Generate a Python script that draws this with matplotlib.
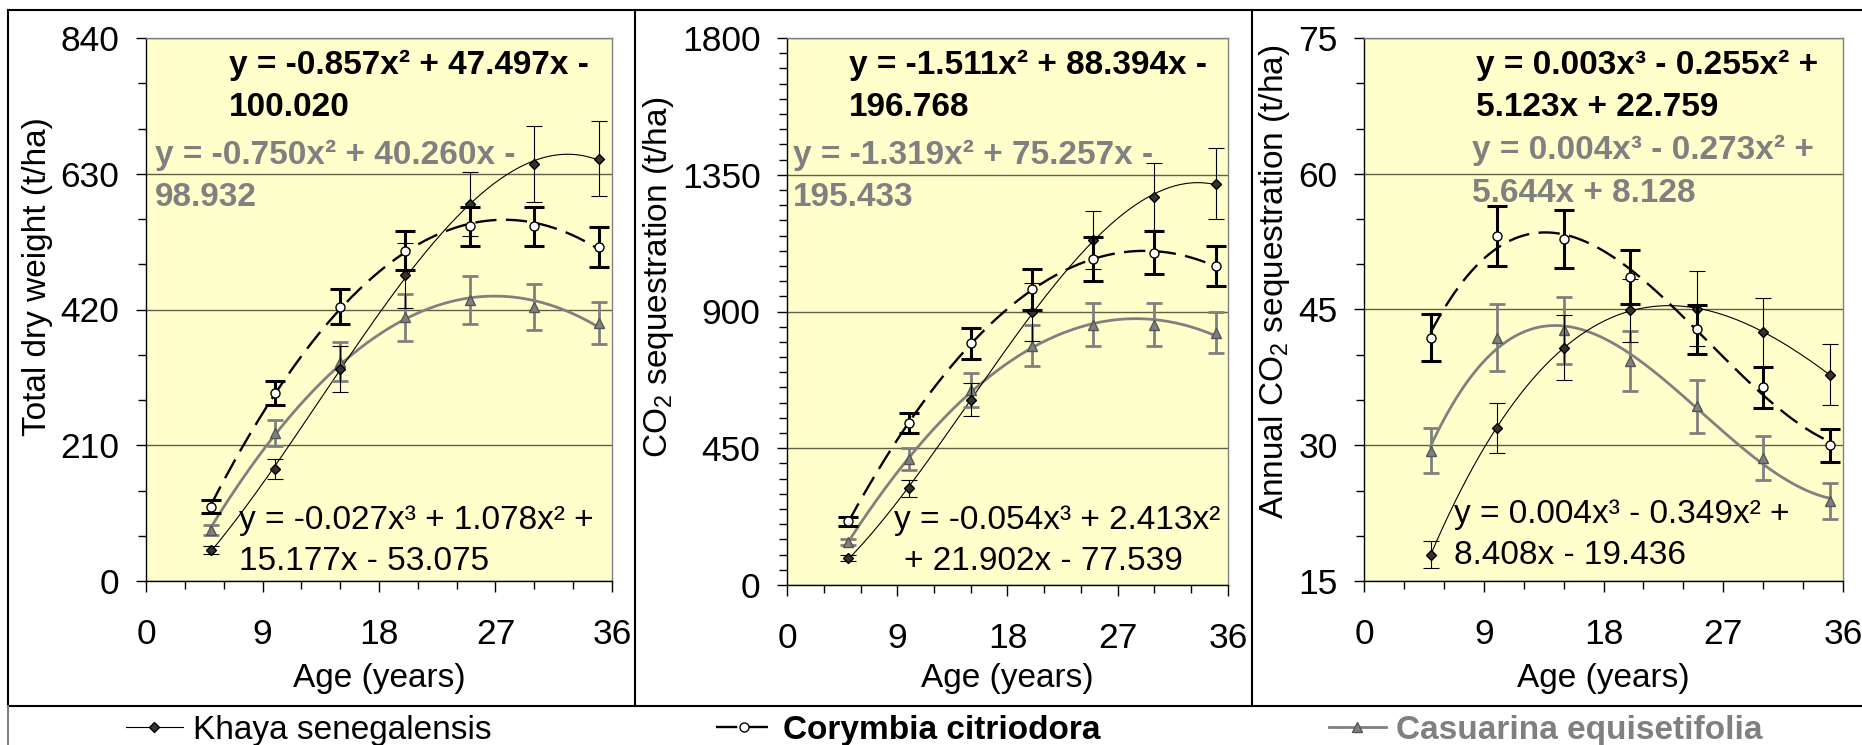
import numpy as np
import matplotlib
matplotlib.use('Agg')
from matplotlib import pyplot as plt
from matplotlib.lines import Line2D
from matplotlib.ticker import MultipleLocator

plt.rcParams['font.family'] = ['Liberation Sans', 'DejaVu Sans']
plt.rcParams['mathtext.fontset'] = 'custom'
plt.rcParams['mathtext.rm'] = 'Liberation Sans'

# ages (years)
ages = [5, 10, 15, 20, 25, 30, 35]

# total dry weight (t/ha)
khaya_dw = [48, 173, 328, 473, 583, 645, 653]
khaya_dw_err = [6, 15, 36, 50, 50, 59, 58]
corymbia_dw = [115, 291, 424, 511, 549, 549, 517]
corymbia_dw_err = [10, 18, 27, 30, 30, 30, 31]
casuarina_dw = [79, 229, 339, 408, 435, 424, 399]
casuarina_dw_err = [8, 20, 30, 36, 37, 36, 33]

# CO2 sequestration (t/ha)
khaya_co2 = [88, 319, 610, 898, 1135, 1278, 1321]
khaya_co2_err = [10, 28, 55, 95, 95, 110, 117]
corymbia_co2 = [209, 533, 795, 973, 1074, 1094, 1050]
corymbia_co2_err = [15, 32, 50, 68, 72, 70, 66]
casuarina_co2 = [141, 415, 643, 788, 857, 857, 830]
casuarina_co2_err = [10, 35, 56, 68, 72, 70, 68]

# annual CO2 sequestration (t/ha)
khaya_ann = [17.9, 31.9, 40.8, 44.9, 45.1, 42.5, 37.8]
khaya_ann_err = [1.5, 2.8, 3.6, 3.5, 4.1, 3.8, 3.4]
corymbia_ann = [41.9, 53.1, 52.8, 48.6, 42.8, 36.4, 30.0]
corymbia_ann_err = [2.6, 3.3, 3.2, 3.0, 2.7, 2.3, 1.8]
casuarina_ann = [29.4, 41.9, 42.7, 39.3, 34.3, 28.6, 23.8]
casuarina_ann_err = [2.5, 3.7, 3.7, 3.3, 2.9, 2.4, 2.0]

# trendline equations as printed
eq_dw = ['y = -0.857x² + 47.497x -', '100.020',
         'y = -0.750x² + 40.260x -', '98.932',
         'y = -0.027x³ + 1.078x² +', '15.177x - 53.075']
eq_co2 = ['y = -1.511x² + 88.394x -', '196.768',
          'y = -1.319x² + 75.257x -', '195.433',
          'y = -0.054x³ + 2.413x²', '+ 21.902x - 77.539']
eq_ann = ['y = 0.003x³ - 0.255x² +', '5.123x + 22.759',
          'y = 0.004x³ - 0.273x² +', '5.644x + 8.128',
          'y = 0.004x³ - 0.349x² +', '8.408x - 19.436']

species = ['Khaya senegalensis', 'Corymbia citriodora', 'Casuarina equisetifolia']

GRAY = '#808080'
FS = 24
TFS = 25.5
W, H = 1862, 745

fig = plt.figure(figsize=(W / 100, H / 100), dpi=100)


def box(l, t, r, b):
    return [l / W, 1 - b / H, (r - l) / W, (b - t) / H]


def panel(ax, k, ke, c, ce, s, se, degs, ylim, major, minor):
    xs = np.linspace(ages[0], ages[-1], 200)
    ax.set_facecolor('#FFFFCC')
    ax.plot(xs, np.polyval(np.polyfit(ages, s, degs[2]), xs), color=GRAY, lw=2, zorder=3)
    ax.plot(xs, np.polyval(np.polyfit(ages, k, degs[0]), xs), color='black', lw=0.8, zorder=3)
    ax.plot(xs, np.polyval(np.polyfit(ages, c, degs[1]), xs), color='black', lw=1.7,
            ls=(0, (9, 4)), zorder=3)
    ax.errorbar(ages, s, yerr=se, fmt='^', color=GRAY, mfc=GRAY, mec='#555555', ms=7.5,
                elinewidth=2, capsize=6, capthick=2, zorder=4)
    ax.errorbar(ages, k, yerr=ke, fmt='D', color='black', mfc='#333333', mec='black', ms=5.5,
                elinewidth=0.8, capsize=6, capthick=0.8, zorder=5)
    ax.errorbar(ages, c, yerr=ce, fmt='o', color='black', mfc='white', mec='black', ms=6.5,
                elinewidth=2.2, capsize=7, capthick=2.2, zorder=6)
    ax.set_xlim(0, 36)
    ax.set_ylim(*ylim)
    ax.xaxis.set_major_locator(MultipleLocator(9))
    ax.xaxis.set_minor_locator(MultipleLocator(3))
    ax.yaxis.set_major_locator(MultipleLocator(major))
    ax.yaxis.set_minor_locator(MultipleLocator(minor))
    ax.yaxis.grid(True, which='major', color='#5f5f45', lw=1)
    ax.set_axisbelow(True)
    for sp in ['top', 'right']:
        ax.spines[sp].set_color(GRAY)
        ax.spines[sp].set_linewidth(1)
    for sp in ['left', 'bottom']:
        ax.spines[sp].set_color('black')
        ax.spines[sp].set_linewidth(1)
    ax.tick_params(axis='y', which='major', direction='out', length=7, width=1, pad=12, labelsize=TFS)
    ax.tick_params(axis='y', which='minor', direction='out', length=6, width=1)
    ax.tick_params(axis='x', which='major', direction='out', length=8, width=1, pad=19, labelsize=TFS)
    ax.tick_params(axis='x', which='minor', direction='out', length=5.5, width=1)


def eqs(lines, pos):
    styles = [('bold', 'black'), ('bold', 'black'), ('bold', GRAY), ('bold', GRAY),
              ('normal', 'black'), ('normal', 'black')]
    for txt, (x, y), (wt, col) in zip(lines, pos, styles):
        fig.text(x / W, 1 - y / H, txt, ha='left', va='center', fontsize=FS,
                 fontweight=wt, color=col)


ax1 = fig.add_axes(box(146, 38, 612, 581))
ax2 = fig.add_axes(box(787, 38, 1228, 585))
ax3 = fig.add_axes(box(1364, 38, 1843, 581))

panel(ax1, khaya_dw, khaya_dw_err, corymbia_dw, corymbia_dw_err, casuarina_dw, casuarina_dw_err,
      (3, 2, 2), (0, 840), 210, 70)
panel(ax2, khaya_co2, khaya_co2_err, corymbia_co2, corymbia_co2_err, casuarina_co2, casuarina_co2_err,
      (3, 2, 2), (0, 1800), 450, 50)
panel(ax3, khaya_ann, khaya_ann_err, corymbia_ann, corymbia_ann_err, casuarina_ann, casuarina_ann_err,
      (3, 3, 3), (15, 75), 15, 5)

eqs(eq_dw, [(229, 65), (229, 107), (155, 155), (155, 198), (239, 520), (239, 562)])
eqs(eq_co2, [(849, 65), (849, 107), (793, 155), (793, 198), (894, 520), (904, 562)])
eqs(eq_ann, [(1476, 65), (1476, 108), (1472, 150), (1472, 193), (1454, 515), (1454, 555)])

# axis titles
fig.text(38 / W, 1 - 277 / H, 'Total dry weight (t/ha)', rotation=90, ha='center', va='center', fontsize=FS)
fig.text(658 / W, 1 - 277 / H, r'CO$_\mathregular{2}$ sequestration (t/ha)', rotation=90,
         ha='center', va='center', fontsize=FS)
fig.text(1275 / W, 1 - 282 / H, r'Annual CO$_\mathregular{2}$ sequestration (t/ha)', rotation=90,
         ha='center', va='center', fontsize=FS)
for xc in [379, 1007, 1603]:
    fig.text(xc / W, 1 - 678 / H, 'Age (years)', ha='center', va='center', fontsize=FS)

# legend entries
handles = [
    Line2D([], [], color='black', lw=0.8, marker='D', mfc='#333333', mec='black', ms=5.5),
    Line2D([], [], color='black', lw=1.7, ls=(0, (9, 4)), marker='o', mfc='white', mec='black', ms=6.5),
    Line2D([], [], color=GRAY, lw=2, marker='^', mfc=GRAY, mec='#555555', ms=7.5),
]
leg_x = [126, 716, 1329]
leg_style = [('normal', 'black'), ('bold', 'black'), ('bold', GRAY)]
for h, name, x, (wt, col) in zip(handles, species, leg_x, leg_style):
    leg = fig.legend([h], [name], loc='center left', bbox_to_anchor=(x / W, 1 - 730 / H),
                     frameon=False, fontsize=FS, handlelength=1.7, handletextpad=0.3,
                     borderpad=0, borderaxespad=0, numpoints=1)
    t = leg.get_texts()[0]
    t.set_fontweight(wt)
    t.set_color(col)

# panel frames
def fline(x0, y0, x1, y1, col='black', lw=1.5):
    fig.add_artist(Line2D([x0 / W, x1 / W], [1 - y0 / H, 1 - y1 / H], color=col, lw=lw,
                          transform=fig.transFigure))

fline(8, 10, W, 10)
fline(8, 706, W, 706)
fline(8, 10, 8, 706)
fline(8, 706, 8, H, col=GRAY)
fline(635, 10, 635, 706)
fline(1252, 10, 1252, 706)

fig.savefig('out.png', dpi=100)
